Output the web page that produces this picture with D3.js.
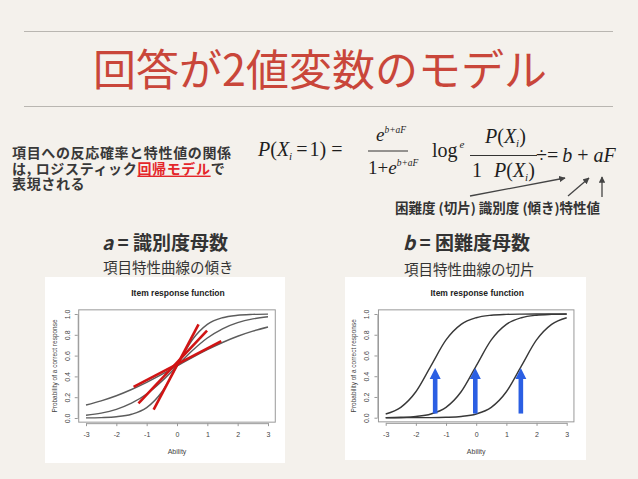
<!DOCTYPE html>
<html>
<head>
<meta charset="utf-8">
<script src="https://cdn.jsdelivr.net/npm/d3@7"></script>
<style>
  body { margin: 0; background: #f3f0eb; }
  svg { display: block; }
</style>
</head>
<body>
<div class="canvas"></div>
<script>
// ability grid the curves were read at
const thetaPoints = [-3, -2.5, -2, -1.5, -1, -0.5, 0, 0.5, 1, 1.5, 2, 2.5, 3];

// left panel: same difficulty, different discrimination
const discSteep = [0.001, 0.004, 0.012, 0.036, 0.10, 0.25, 0.50, 0.75, 0.90, 0.964, 0.988, 0.996, 0.999];
const discMid   = [0.027, 0.047, 0.083, 0.142, 0.231, 0.354, 0.50, 0.646, 0.769, 0.858, 0.917, 0.953, 0.973];
const discFlat  = [0.125, 0.165, 0.214, 0.274, 0.343, 0.419, 0.50, 0.581, 0.657, 0.726, 0.786, 0.835, 0.875];

// right panel: same discrimination, different difficulty
const diffEasy = [0.036, 0.10, 0.25, 0.50, 0.75, 0.90, 0.964, 0.988, 0.996, 0.999, 1.0, 1.0, 1.0];
const diffMid  = [0.001, 0.004, 0.012, 0.036, 0.10, 0.25, 0.50, 0.75, 0.90, 0.964, 0.988, 0.996, 0.999];
const diffHard = [0.0001, 0.0002, 0.0005, 0.001, 0.004, 0.012, 0.036, 0.10, 0.25, 0.50, 0.75, 0.90, 0.964];

// red slope marks (ability, probability at both ends)
const tangents = [
    {x1: -0.77, y1: 0.08, x2: 0.71, y2: 0.90},
    {x1: -1.27, y1: 0.14, x2: 0.99, y2: 0.84},
    {x1: -1.43, y1: 0.30, x2: 1.46, y2: 0.74}
];

// blue arrows at the difficulty of each item
const arrowAbility = [-1.36, -0.03, 1.48];
const arrowFrom = 0.04;
const arrowTo = 0.48;

const xTicks = [-3, -2, -1, 0, 1, 2, 3];
const yTicks = [0, 0.2, 0.4, 0.6, 0.8, 1.0];

const jpFont = '"Noto Sans CJK JP", sans-serif';
const mathFont = '"Liberation Serif", "DejaVu Serif", serif';
const plotFont = '"Liberation Sans", Arial, sans-serif';

const svg = d3.select('.canvas')
    .append('svg')
        .attr('width', 638)
        .attr('height', 479);

svg.append('rect')
    .attr('width', 638)
    .attr('height', 479)
    .attr('fill', '#f4f1ec');

const defs = svg.append('defs');
defs.append('marker')
    .attr('id', 'arrow-grey')
    .attr('viewBox', '0 0 10 10')
    .attr('refX', 9)
    .attr('refY', 5)
    .attr('markerWidth', 5)
    .attr('markerHeight', 5)
    .attr('orient', 'auto')
  .append('path')
    .attr('d', 'M0,0L10,5L0,10z')
    .attr('fill', '#444');

// header rules + title
svg.selectAll('line.rule')
    .data([31.5, 106.5])
    .enter()
    .append('line')
    .attr('class', 'rule')
    .attr('x1', 24).attr('x2', 613)
    .attr('y1', d => d).attr('y2', d => d)
    .attr('stroke', '#b9b6b1')
    .attr('stroke-width', 1);

svg.append('text')
    .attr('x', 320)
    .attr('y', 67)
    .attr('text-anchor', 'middle')
    .attr('dominant-baseline', 'central')
    .attr('font-family', jpFont)
    .attr('font-size', 43)
    .attr('fill', '#c9463a')
    .text('回答が2値変数のモデル');

// left description, one text per line
const descLines = [
    [{t: '項目への反応確率と特性値の関係'}],
    [{t: 'は, ロジスティック'}, {t: '回帰モデル', red: true}, {t: 'で'}],
    [{t: '表現される'}]
];
descLines.forEach((parts, i) => {
    const t = svg.append('text')
        .attr('x', 12)
        .attr('y', 152 + i * 15.6)
        .attr('dominant-baseline', 'central')
        .attr('font-family', jpFont)
        .attr('font-size', 14)
        .attr('letter-spacing', 0.65)
        .attr('font-weight', 700)
        .attr('fill', '#383838');
    parts.forEach(pt => {
        const s = t.append('tspan').text(pt.t);
        if (pt.red) s.attr('fill', '#e4262a').attr('text-decoration', 'underline');
    });
});

// formula 1
const f1 = svg.append('g')
    .attr('font-family', mathFont)
    .attr('fill', '#1e1e1e');
const f1a = f1.append('text').attr('x', 258).attr('y', 156).attr('font-size', 20);
f1a.append('tspan').attr('font-style', 'italic').text('P');
f1a.append('tspan').text('(');
f1a.append('tspan').attr('font-style', 'italic').text('X');
f1a.append('tspan').attr('font-style', 'italic').attr('font-size', 11).attr('dy', 4).text('i');
f1a.append('tspan').attr('dy', -4).attr('dx', 4).text('=');
f1a.append('tspan').attr('dx', 2).text('1)');
f1a.append('tspan').attr('dx', 5).text('=');
f1.append('line')
    .attr('x1', 368).attr('x2', 408)
    .attr('y1', 151).attr('y2', 151)
    .attr('stroke', '#1e1e1e').attr('stroke-width', 0.9);
const num1 = f1.append('text').attr('x', 376).attr('y', 141).attr('font-size', 19);
num1.append('tspan').attr('font-style', 'italic').text('e');
num1.append('tspan').attr('font-style', 'italic').attr('font-size', 9.5).attr('dy', -8).text('b+aF');
const den1 = f1.append('text').attr('x', 368).attr('y', 174).attr('font-size', 19);
den1.append('tspan').text('1+');
den1.append('tspan').attr('font-style', 'italic').text('e');
den1.append('tspan').attr('font-style', 'italic').attr('font-size', 9.5).attr('dy', -8).text('b+aF');

// formula 2
const f2 = svg.append('g')
    .attr('font-family', mathFont)
    .attr('fill', '#1e1e1e');
const lg = f2.append('text').attr('x', 432).attr('y', 157).attr('font-size', 20);
lg.append('tspan').text('log');
lg.append('tspan').attr('font-style', 'italic').attr('font-size', 11).attr('dy', -9).attr('dx', 2).text('e');
const num2 = f2.append('text').attr('x', 485).attr('y', 143).attr('font-size', 20);
num2.append('tspan').attr('font-style', 'italic').text('P');
num2.append('tspan').text('(');
num2.append('tspan').attr('font-style', 'italic').text('X');
num2.append('tspan').attr('font-style', 'italic').attr('font-size', 11).attr('dy', 4).text('i');
num2.append('tspan').attr('dy', -4).text(')');
f2.append('line')
    .attr('x1', 470).attr('x2', 537)
    .attr('y1', 155.5).attr('y2', 155.5)
    .attr('stroke', '#1e1e1e').attr('stroke-width', 0.9);
const den2 = f2.append('text').attr('x', 472).attr('y', 177).attr('font-size', 20);
den2.append('tspan').text('1');
den2.append('tspan').attr('x', 494).attr('font-style', 'italic').text('P');
den2.append('tspan').text('(');
den2.append('tspan').attr('font-style', 'italic').text('X');
den2.append('tspan').attr('font-style', 'italic').attr('font-size', 11).attr('dy', 4).text('i');
den2.append('tspan').attr('dy', -4).text(')');
const rhs = f2.append('text').attr('x', 536).attr('y', 162).attr('font-size', 20);
rhs.append('tspan').text('÷=');
rhs.append('tspan').attr('dx', 4).attr('font-style', 'italic').text('b');
rhs.append('tspan').text(' + ');
rhs.append('tspan').attr('font-style', 'italic').text('aF');

// pointer arrows under the formula
svg.selectAll('line.pointer')
    .data([[470, 196, 565, 178], [568, 196, 589, 178], [602, 197, 602, 177]])
    .enter()
    .append('line')
    .attr('class', 'pointer')
    .attr('x1', d => d[0]).attr('y1', d => d[1])
    .attr('x2', d => d[2]).attr('y2', d => d[3])
    .attr('stroke', '#444')
    .attr('stroke-width', 1.3)
    .attr('marker-end', 'url(#arrow-grey)');

svg.append('text')
    .attr('x', 395)
    .attr('y', 207)
    .attr('dominant-baseline', 'central')
    .attr('font-family', jpFont)
    .attr('font-size', 13.5)
    .attr('font-weight', 700)
    .attr('fill', '#333')
    .text('困難度 (切片) 識別度 (傾き)特性値');

// parameter headings
const headings = [
    {x: 102, y: 241, sub: 266, v: 'a', name: ' = 識別度母数', note: '項目特性曲線の傾き'},
    {x: 403, y: 241, sub: 268, v: 'b', name: ' = 困難度母数', note: '項目特性曲線の切片'}
];
headings.forEach(h => {
    const t = svg.append('text')
        .attr('x', h.x)
        .attr('y', h.y)
        .attr('dominant-baseline', 'central')
        .attr('font-family', jpFont)
        .attr('font-size', 19)
        .attr('font-weight', 700)
        .attr('fill', '#333');
    t.append('tspan').attr('font-style', 'italic').text(h.v);
    t.append('tspan').text(h.name);
    svg.append('text')
        .attr('x', h.x + 1)
        .attr('y', h.sub)
        .attr('dominant-baseline', 'central')
        .attr('font-family', jpFont)
        .attr('font-size', 14.5)
        .attr('fill', '#333')
        .text(h.note);
});

// the two R plots
const panels = [
    {left: 45, top: 277, width: 240, height: 186, xRange: [86, 268], yRange: [418, 314],
     curves: [discFlat, discMid, discSteep], colour: '#5c5c5c', tangents: tangents, arrows: []},
    {left: 345, top: 277, width: 241, height: 183, xRange: [385.7, 566.7], yRange: [417.7, 314],
     curves: [diffEasy, diffMid, diffHard], colour: '#383838', tangents: [], arrows: arrowAbility}
];

panels.forEach(p => {
    const x = d3.scaleLinear().domain([-3, 3]).range(p.xRange);
    const y = d3.scaleLinear().domain([0, 1]).range(p.yRange);
    const g = svg.append('g');

    g.append('rect')
        .attr('x', p.left).attr('y', p.top)
        .attr('width', p.width).attr('height', p.height)
        .attr('fill', '#fff');

    const bx0 = x(-3.24), bx1 = x(3.24), by0 = y(-0.04), by1 = y(1.04);

    const xAxis = d3.axisBottom(x)
        .tickValues(xTicks)
        .tickSize(3)
        .tickSizeOuter(0)
        .tickPadding(6)
        .tickFormat(d => String(d));
    const gx = g.append('g')
        .attr('transform', `translate(0, ${by0 + 1})`)
        .call(xAxis);

    const yAxis = d3.axisLeft(y)
        .tickValues(yTicks)
        .tickSize(3)
        .tickSizeOuter(0)
        .tickFormat(d => d.toFixed(1));
    const gy = g.append('g')
        .attr('transform', `translate(${bx0 - 1}, 0)`)
        .call(yAxis);
    gy.selectAll('.tick text')
        .attr('x', 0)
        .attr('dy', 0)
        .attr('text-anchor', 'middle')
        .attr('transform', 'translate(-8, 0) rotate(-90)');

    [gx, gy].forEach(a => {
        a.select('.domain').attr('stroke', '#999');
        a.selectAll('.tick line').attr('stroke', '#999');
        a.selectAll('.tick text')
            .attr('font-family', plotFont)
            .attr('font-size', 7)
            .attr('fill', '#444');
    });

    g.append('rect')
        .attr('x', bx0).attr('y', by1)
        .attr('width', bx1 - bx0).attr('height', by0 - by1)
        .attr('fill', 'none')
        .attr('stroke', '#999')
        .attr('stroke-width', 1);

    const line = d3.line()
        .x((d, i) => x(thetaPoints[i]))
        .y(d => y(d))
        .curve(d3.curveMonotoneX);

    g.selectAll('path.icc')
        .data(p.curves)
        .enter()
        .append('path')
        .attr('class', 'icc')
        .attr('fill', 'none')
        .attr('stroke', p.colour)
        .attr('stroke-width', 1.4)
        .attr('d', line);

    g.selectAll('line.tangent')
        .data(p.tangents)
        .enter()
        .append('line')
        .attr('class', 'tangent')
        .attr('x1', d => x(d.x1)).attr('y1', d => y(d.y1))
        .attr('x2', d => x(d.x2)).attr('y2', d => y(d.y2))
        .attr('stroke', '#d11414')
        .attr('stroke-width', 2.6);

    const arrows = g.selectAll('g.diff-arrow')
        .data(p.arrows)
        .enter()
        .append('g')
        .attr('class', 'diff-arrow');
    arrows.append('rect')
        .attr('x', d => x(d) - 2.3)
        .attr('y', y(arrowTo) + 9)
        .attr('width', 4.6)
        .attr('height', y(arrowFrom) - y(arrowTo) - 9)
        .attr('fill', '#2b5fe3');
    arrows.append('path')
        .attr('d', d => `M${x(d)},${y(arrowTo)}L${x(d) + 5.5},${y(arrowTo) + 11}L${x(d) - 5.5},${y(arrowTo) + 11}Z`)
        .attr('fill', '#2b5fe3');

    const cx = (p.xRange[0] + p.xRange[1]) / 2;
    g.append('text')
        .attr('x', cx + 1)
        .attr('y', 293)
        .attr('text-anchor', 'middle')
        .attr('dominant-baseline', 'central')
        .attr('font-family', plotFont)
        .attr('font-size', 8.5)
        .attr('font-weight', 700)
        .attr('fill', '#222')
        .text('Item response function');

    g.append('text')
        .attr('x', cx)
        .attr('y', 451)
        .attr('text-anchor', 'middle')
        .attr('dominant-baseline', 'central')
        .attr('font-family', plotFont)
        .attr('font-size', 7)
        .attr('fill', '#444')
        .text('Ability');

    g.append('text')
        .attr('transform', `translate(${p.xRange[0] - 32}, ${(p.yRange[0] + p.yRange[1]) / 2}) rotate(-90)`)
        .attr('text-anchor', 'middle')
        .attr('dominant-baseline', 'central')
        .attr('font-family', plotFont)
        .attr('font-size', 6.5)
        .attr('fill', '#444')
        .text('Probability of a correct response');
});
</script>
</body>
</html>
